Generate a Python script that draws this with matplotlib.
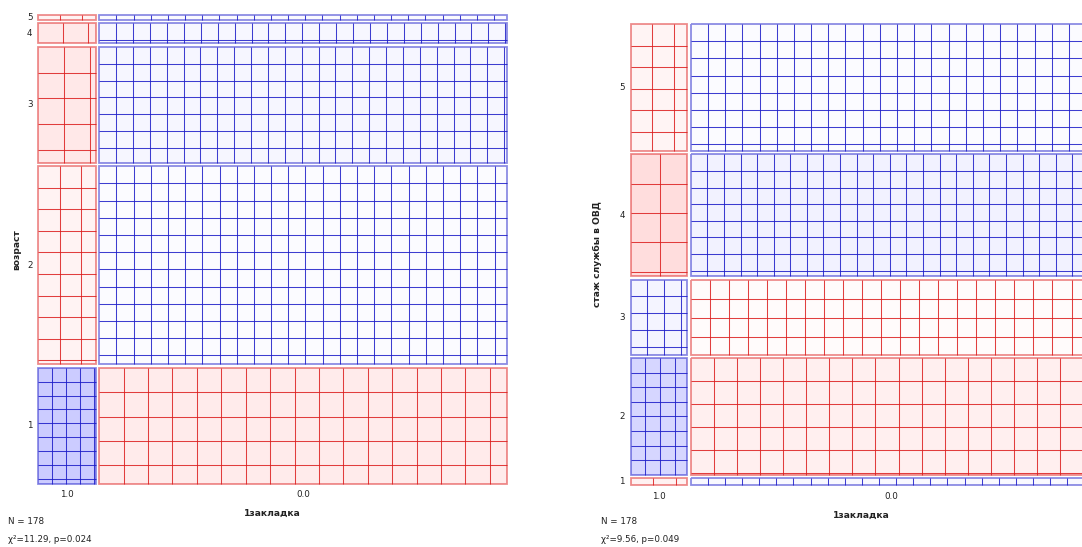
import numpy as np
import matplotlib
matplotlib.use("Agg")
import matplotlib.pyplot as plt
from matplotlib.patches import Rectangle
from matplotlib.collections import LineCollection
from math import exp, factorial

# column variable (1закладка) values, in display order
zakladka_vals = ["1.0", "0.0"]

# возраст 1..5 counts for 1закладка = 1.0 / 0.0
age_vals = ["1", "2", "3", "4", "5"]
age_z1 = [12, 8, 3, 0, 0]
age_z0 = [33, 68, 42, 9, 3]

# стаж службы в ОВД 1..5 counts for 1закладка = 1.0 / 0.0
tenure_vals = ["1", "2", "3", "4", "5"]
tenure_z1 = [0, 11, 5, 2, 5]
tenure_z0 = [4, 35, 25, 46, 45]

W, H = 1082, 547
SCALE = 0.875      # screen pixels per widget pixel
FONT = 6.3
TXT = "#222222"


def chi_square(table):
    n = table.sum()
    expected = np.outer(table.sum(1), table.sum(0)) / n
    chisq = ((table - expected) ** 2 / expected).sum()
    dof = (table.shape[0] - 1) * (table.shape[1] - 1)
    # chi2 survival function, closed form for even dof
    half = chisq / 2
    p = exp(-half) * sum(half ** k / factorial(k) for k in range(dof // 2))
    resid = (table - expected) / np.sqrt(expected)
    return n, chisq, p, resid


def pearson_style(r):
    # fill colour, pen colour and grid spacing from the Pearson residual
    if r > 0:
        c = max(255 - 20 * r, 55) / 255
        return (c, c, 1.0), "#1c1cc8", (20 - 1.6 * min(r, 10)) * SCALE
    if r < 0:
        c = max(255 + 20 * r, 55) / 255
        return (1.0, c, c), "#dc1e1e", (20 - 8 * max(r, -10)) * SCALE
    return (224 / 255,) * 3, "black", 20 * SCALE


def sieve(ax, x_vals, y_vals, cols, x_name, y_name, left, top, size,
          title_x, note_x):
    table = np.column_stack(cols)          # rows: y values, cols: x values
    n, chisq, p, resid = chi_square(table)
    px = table.sum(0) / n
    py = table.sum(1) / n
    inset = 2 * SCALE

    curr_x = left
    for xi, xv in enumerate(x_vals):
        w = size * px[xi]
        curr_y = top
        for yi in range(len(y_vals) - 1, -1, -1):   # top row is last value
            h = size * py[yi]
            rx, ry = curr_x + inset, curr_y + inset
            rw, rh = w - 2 * inset, h - 2 * inset
            fill, pen, dist = pearson_style(resid[yi, xi])
            ax.add_patch(Rectangle((rx, ry), rw, rh, facecolor=fill,
                                   edgecolor="none", zorder=1))
            segs = []
            gx = dist
            while gx < rw:
                segs.append([(rx + gx, ry), (rx + gx, ry + rh)])
                gx += dist
            gy = dist
            while gy < rh:
                segs.append([(rx, ry + gy), (rx + rw, ry + gy)])
                gy += dist
            ax.add_collection(LineCollection(segs, colors=pen, linewidths=0.75,
                                             alpha=0.85, zorder=2))
            ax.add_patch(Rectangle((rx, ry), rw, rh, facecolor="none",
                                   edgecolor=pen, linewidth=1.3, alpha=0.5,
                                   zorder=3))
            if xi == 0:
                ax.text(left - 4, curr_y + h / 2, y_vals[yi], ha="right",
                        va="center", fontsize=FONT, color=TXT)
            curr_y += h
        ax.text(curr_x + w / 2, top + size + 5, xv, ha="center", va="top",
                fontsize=FONT, color=TXT)
        curr_x += w

    ax.text(title_x, top + size / 2, y_name, rotation=90, ha="center",
            va="center", fontsize=FONT + 0.3, fontweight="bold", color=TXT)
    ax.text(left + size / 2, top + size + 24, x_name, ha="center", va="top",
            fontsize=FONT + 0.3, fontweight="bold", color=TXT)
    ax.text(note_x, 522, "N = {}".format(n), ha="left", va="center",
            fontsize=FONT, color=TXT)
    ax.text(note_x, 540, "χ²={:.2f}, p={:.3f}".format(chisq, p), ha="left",
            va="center", fontsize=FONT, color=TXT)


fig = plt.figure(figsize=(W / 100, H / 100), dpi=100)
ax = fig.add_axes([0, 0, 1, 1])
ax.set_xlim(0, W)
ax.set_ylim(H, 0)
ax.axis("off")

sieve(ax, zakladka_vals, age_vals, [age_z1, age_z0], "1закладка", "возраст",
      left=36.5, top=13.3, size=472, title_x=17, note_x=8)
sieve(ax, zakladka_vals, tenure_vals, [tenure_z1, tenure_z0], "1закладка",
      "стаж службы в ОВД", left=629, top=22.3, size=464.4, title_x=597,
      note_x=601)

fig.savefig("out.png", dpi=100, facecolor="white")
